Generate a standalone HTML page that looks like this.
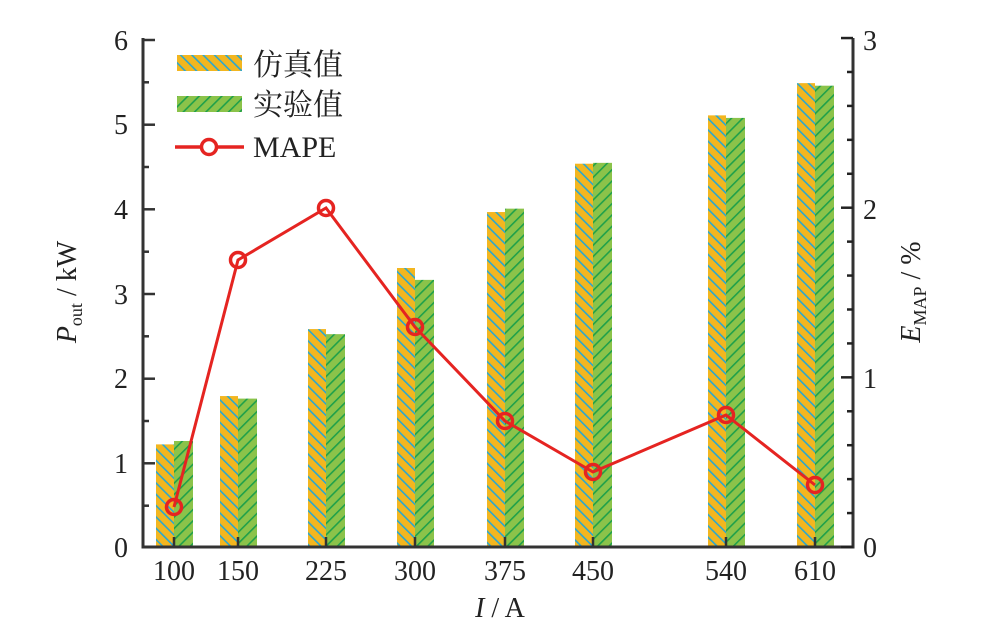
<!DOCTYPE html>
<html><head><meta charset="utf-8"><style>
body{margin:0;background:#fff}
svg{display:block}
text{font-family:"Liberation Serif","Noto Serif CJK SC",serif;fill:#222}
</style></head><body>
<svg width="996" height="636" viewBox="0 0 996 636">
<defs>
<pattern id="po" width="8" height="8" patternUnits="userSpaceOnUse" patternTransform="rotate(-45)">
<rect width="8" height="8" fill="#f3b61f"/><rect width="1.6" height="8" fill="#2aa7d0"/></pattern>
<pattern id="pg" width="8" height="8" patternUnits="userSpaceOnUse" patternTransform="rotate(45)">
<rect width="8" height="8" fill="#8bc34a"/><rect width="1.6" height="8" fill="#1fa04a"/></pattern>
</defs>
<g id="bars"></g>
<g stroke="#333" stroke-width="3" fill="none">
<path d="M143 38 V547 H853 V38"/>
</g>
<g stroke="#333" stroke-width="2.5">
<line x1="143" y1="40" x2="155" y2="40"/><line x1="143" y1="124.7" x2="155" y2="124.7"/><line x1="143" y1="209.3" x2="155" y2="209.3"/><line x1="143" y1="294" x2="155" y2="294"/><line x1="143" y1="378.7" x2="155" y2="378.7"/><line x1="143" y1="463.3" x2="155" y2="463.3"/>
<line x1="143" y1="82.3" x2="149" y2="82.3"/><line x1="143" y1="167" x2="149" y2="167"/><line x1="143" y1="251.7" x2="149" y2="251.7"/><line x1="143" y1="336.3" x2="149" y2="336.3"/><line x1="143" y1="421" x2="149" y2="421"/><line x1="143" y1="505.7" x2="149" y2="505.7"/>
</g>
<g id="rt" stroke="#222" stroke-width="2.5"></g>
<g id="xt" stroke="#333" stroke-width="2.5"></g>
<g font-size="28" text-anchor="end">
<text x="128" y="50">6</text><text x="128" y="134">5</text><text x="128" y="219">4</text><text x="128" y="304">3</text><text x="128" y="388">2</text><text x="128" y="473">1</text><text x="128" y="557">0</text>
</g>
<g font-size="28" text-anchor="start">
<text x="863" y="50">3</text><text x="863" y="219">2</text><text x="863" y="388">1</text><text x="863" y="557">0</text>
</g>
<g font-size="28" text-anchor="middle">
<text x="174" y="580">100</text><text x="238" y="580">150</text><text x="326" y="580">225</text><text x="415" y="580">300</text><text x="505" y="580">375</text><text x="593" y="580">450</text><text x="726" y="580">540</text><text x="815" y="580">610</text>
</g>
<text x="500" y="617" font-size="28" text-anchor="middle"><tspan font-style="italic">I</tspan> / A</text>
<text transform="translate(76 292) rotate(-90)" font-size="28" text-anchor="middle"><tspan font-style="italic">P</tspan><tspan font-size="18" dy="6">out</tspan><tspan dy="-6"> / kW</tspan></text>
<text transform="translate(920 292) rotate(-90)" font-size="28" text-anchor="middle"><tspan font-style="italic">E</tspan><tspan font-size="18" dy="6">MAP</tspan><tspan dy="-6"> / %</tspan></text>
<polyline points="174,507 238,260 326,208 415,327 505,421 593,472 726,415 815,485" fill="none" stroke="#e52421" stroke-width="3"/>
<g fill="none" stroke="#e52421" stroke-width="3.5">
<circle cx="174" cy="507" r="7.5"/><circle cx="238" cy="260" r="7.5"/><circle cx="326" cy="208" r="7.5"/><circle cx="415" cy="327" r="7.5"/><circle cx="505" cy="421" r="7.5"/><circle cx="593" cy="472" r="7.5"/><circle cx="726" cy="415" r="7.5"/><circle cx="815" cy="485" r="7.5"/>
</g>
<rect x="177" y="55" width="65" height="16" fill="url(#po)"/>
<rect x="177" y="96" width="65" height="16" fill="url(#pg)"/>
<line x1="175" y1="147" x2="244" y2="147" stroke="#e52421" stroke-width="3.5"/>
<circle cx="209" cy="147" r="7.5" fill="#fff" stroke="#e52421" stroke-width="3.5"/>
<g font-size="30"><text x="253" y="75">仿真值</text><text x="253" y="115">实验值</text><text x="253" y="157">MAPE</text></g>
<script>
var xs=[174,238,326,415,505,593,726,815],o=[1.21,1.78,2.57,3.29,3.95,4.52,5.09,5.47],g=[1.25,1.75,2.51,3.15,3.99,4.53,5.06,5.44];
var ns='http://www.w3.org/2000/svg',b=document.getElementById('bars');
function r(x,y,w,h,f){var e=document.createElementNS(ns,'rect');e.setAttribute('x',x);e.setAttribute('y',y);e.setAttribute('width',w);e.setAttribute('height',h);e.setAttribute('fill',f);b.appendChild(e);}
for(var i=0;i<8;i++){var ho=o[i]*84.8,hg=g[i]*84.8;r(xs[i]-18,547-ho,18,ho,'url(#po)');r(xs[i],547-hg,19,hg,'url(#pg)');}
function l(p,x1,y1,x2,y2){var e=document.createElementNS(ns,'line');e.setAttribute('x1',x1);e.setAttribute('y1',y1);e.setAttribute('x2',x2);e.setAttribute('y2',y2);p.appendChild(e);}
var rt=document.getElementById('rt');
for(var k=0;k<=15;k++){var y=547-k*33.93;l(rt,853,y,k%5==0?841:847,y);}
var xt=document.getElementById('xt');
for(var i=0;i<8;i++)l(xt,xs[i],547,xs[i],537);
</script>
</svg>
</body></html>
